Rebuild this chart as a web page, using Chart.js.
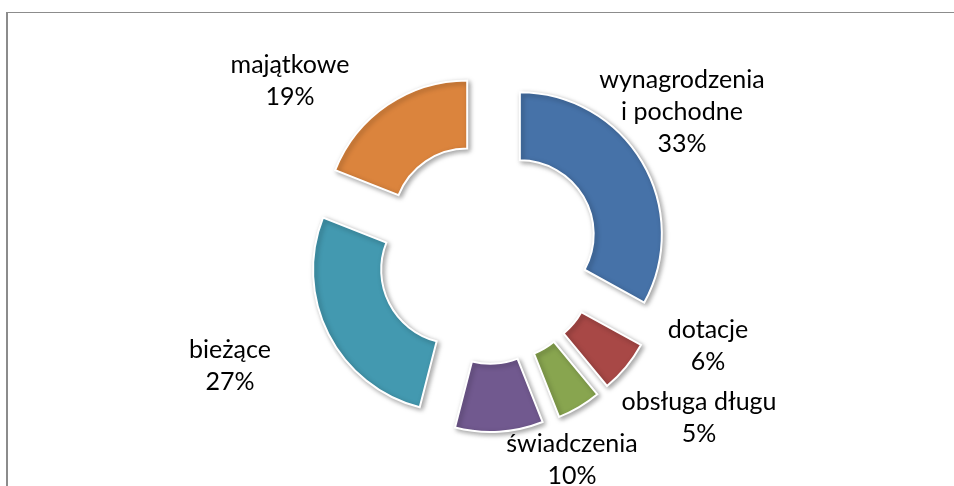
<!DOCTYPE html>
<html>
<head>
<meta charset="utf-8">
<script src="https://cdn.jsdelivr.net/npm/chart.js@4/dist/chart.umd.min.js"></script>
<style>
  html, body { margin: 0; padding: 0; background: #fff; overflow: hidden; }
  #wrap { position: relative; width: 954px; height: 486px; }
  #frame {
    position: absolute; left: 6px; top: 12px; width: 1000px; height: 1000px;
    border-left: 2px solid #8c8c8c; border-top: 1px solid #8c8c8c;
  }
  canvas { position: absolute; left: 0; top: 0; }
</style>
</head>
<body>
<div id="wrap">
  <div id="frame"></div>
  <canvas id="chart" width="954" height="486"></canvas>
</div>
<script>
const categories = [['wynagrodzenia', 'i pochodne'], 'dotacje', 'obsługa długu', 'świadczenia', 'bieżące', 'majątkowe'];
const shares = [33, 6, 5, 10, 27, 19];
const colors = ['#4672A8', '#A84846', '#88A54F', '#71598F', '#4399B0', '#DB843D'];

// label anchor (first baseline) relative to the ring centre
const labelOffsets = [[194, -165], [220, 85], [211, 157], [84, 199], [-258, 105], [-198, -180]];
const explode = 37;
const lineH = 32;

const total = shares.reduce((a, b) => a + b, 0);

// draws every arc pushed out along its middle angle, with a soft shadow
const explodedArcs = {
  id: 'explodedArcs',
  beforeDatasetDraw(chart, args) {
    const ctx = chart.ctx;
    args.meta.data.forEach(arc => {
      const mid = (arc.startAngle + arc.endAngle) / 2;
      ctx.save();
      ctx.translate(Math.cos(mid) * explode, Math.sin(mid) * explode);
      ctx.shadowColor = 'rgba(0,0,0,0.35)';
      ctx.shadowBlur = 5;
      ctx.shadowOffsetX = 2;
      ctx.shadowOffsetY = 2;
      arc.draw(ctx);
      ctx.restore();
    });
    return false;
  },
  afterDraw(chart) {
    const ctx = chart.ctx;
    const meta = chart.getDatasetMeta(0);
    ctx.save();
    ctx.font = '25px Lato';
    ctx.fillStyle = '#000';
    ctx.textAlign = 'center';
    ctx.textBaseline = 'alphabetic';
    meta.data.forEach((arc, i) => {
      const name = categories[i];
      const lines = (Array.isArray(name) ? name.slice() : [name]);
      lines.push(Math.round(shares[i] / total * 100) + '%');
      const x = arc.x + labelOffsets[i][0];
      const y = arc.y + labelOffsets[i][1];
      lines.forEach((t, k) => ctx.fillText(t, x, y + k * lineH));
    });
    ctx.restore();
  }
};

new Chart(document.getElementById('chart'), {
  type: 'doughnut',
  data: {
    labels: categories,
    datasets: [{
      data: shares,
      backgroundColor: colors,
      borderColor: '#fff',
      borderWidth: 2,
      borderJoinStyle: 'miter'
    }]
  },
  options: {
    responsive: false,
    animation: false,
    radius: 142,
    cutout: '52%',
    layout: { padding: { left: 22, top: 20, right: 0, bottom: 0 } },
    plugins: {
      legend: { display: false },
      tooltip: { enabled: false }
    }
  },
  plugins: [explodedArcs]
});
</script>
</body>
</html>
